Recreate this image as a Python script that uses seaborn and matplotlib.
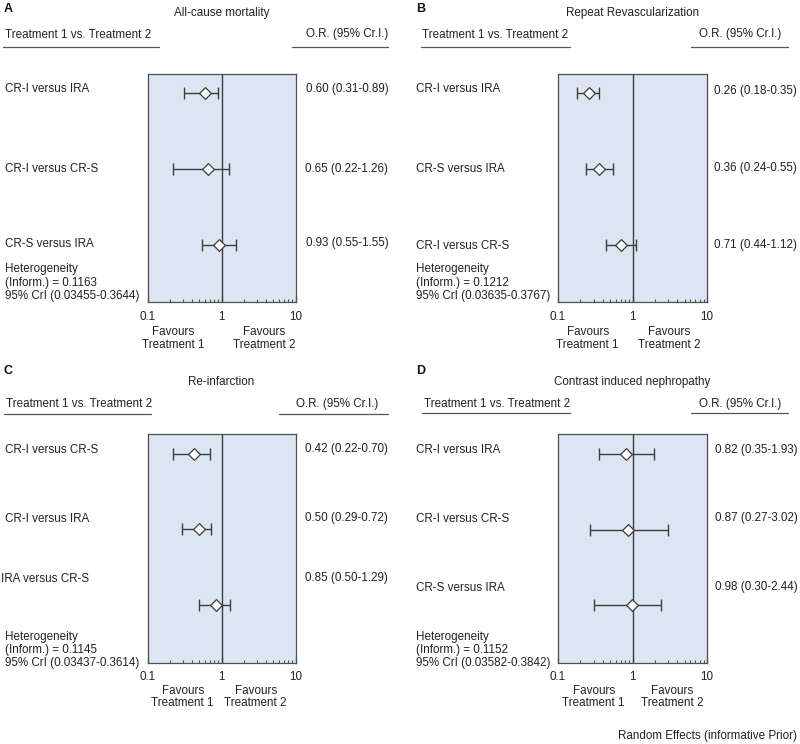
import numpy as np
import seaborn as sns
import matplotlib
matplotlib.use("Agg")
from matplotlib import pyplot as plt
from matplotlib.ticker import LogLocator, NullFormatter, FixedLocator, FixedFormatter

# ---------------- data ----------------
letters = ["A", "B", "C", "D"]
titles = ["All-cause mortality", "Repeat Revascularization", "Re-infarction",
          "Contrast induced nephropathy"]

comp_A = ["CR-I versus IRA", "CR-I versus CR-S", "CR-S versus IRA"]
or_A = [0.60, 0.65, 0.93]
lo_A = [0.31, 0.22, 0.55]
hi_A = [0.89, 1.26, 1.55]

comp_B = ["CR-I versus IRA", "CR-S versus IRA", "CR-I versus CR-S"]
or_B = [0.26, 0.36, 0.71]
lo_B = [0.18, 0.24, 0.44]
hi_B = [0.35, 0.55, 1.12]

comp_C = ["CR-I versus CR-S", "CR-I versus IRA", "IRA versus CR-S"]
or_C = [0.42, 0.50, 0.85]
lo_C = [0.22, 0.29, 0.50]
hi_C = [0.70, 0.72, 1.29]

comp_D = ["CR-I versus IRA", "CR-I versus CR-S", "CR-S versus IRA"]
or_D = [0.82, 0.87, 0.98]
lo_D = [0.35, 0.27, 0.30]
hi_D = [1.93, 3.02, 2.44]

het_tau = ["0.1163", "0.1212", "0.1145", "0.1152"]
het_lo = ["0.03455", "0.03635", "0.03437", "0.03582"]
het_hi = ["0.3644", "0.3767", "0.3614", "0.3842"]

tick_vals = [0.1, 1, 10]
tick_labels = ["0.1", "1", "10"]

# ---------------- layout (pixels) ----------------
W, H = 800, 744
# axes box: left, right, top, bottom
boxes = [(147.5, 295.5, 73.7, 302.3), (558, 707, 73.7, 302.3),
         (147.5, 295.5, 434, 662.7), (558, 707, 434, 663)]
label_x = [5, 416, 5, 416]
label_x_c3 = 1  # "IRA versus CR-S" sits further left
row_y = [[89.3, 169.3, 244.3], [89.3, 169.3, 246], [450, 519.3, 579.3], [450, 519.3, 588.3]]
or_y = [[89.3, 169.3, 243.3], [91, 168.3, 245], [449.3, 518.3, 578.3], [450, 518.3, 586.7]]
or_right = [388.3, 796.7, 388, 797.7]
het_y = [[269.3, 283.3, 296], [269.3, 283.3, 296], [637.3, 650, 663.3], [637.3, 650, 663.3]]
letter_y = [8.7, 8.7, 371, 371]
title_y = [13.3, 13.3, 381.7, 381.7]
head_y = [34.5, 34.5, 403.7, 403.7]
line_y = [46.5, 46.5, 414.3, 413.3]
left_line = [(3, 159), (420.5, 570), (4, 150.7), (421.5, 570)]
or_line = [(292, 388), (690.7, 787.7), (279, 388), (690.7, 787.7)]
or_head_x = [388, 781, 378, 781]
fav_y = [(332.3, 345), (332.3, 345), (690.7, 703.3), (690.7, 703.3)]
fav1_x = [173, 587.7, 182.7, 593.7]
fav2_x = [264, 669.3, 255.7, 672.3]

fill = "#dce6f2"
edge = "#505050"
dark = "#3c3c3c"
txt = "#222222"
fs = 8.4

sns.set_style("ticks")
plt.rcParams["font.family"] = ["Liberation Sans", "DejaVu Sans"]

fig = plt.figure(figsize=(W / 100, H / 100), dpi=100)


def fx(px):
    return px / W


def fy(py):
    return 1 - py / H


panels = [(comp_A, or_A, lo_A, hi_A), (comp_B, or_B, lo_B, hi_B),
          (comp_C, or_C, lo_C, hi_C), (comp_D, or_D, lo_D, hi_D)]

for i, (comps, ors, los, his) in enumerate(panels):
    l, r, t, b = boxes[i]
    ax = fig.add_axes([fx(l), fy(b), (r - l) / W, (b - t) / H])
    ax.set_facecolor(fill)
    ax.set_xscale("log")
    ax.set_xlim(0.1, 10)
    ax.set_ylim(2.76, -0.26)
    rows = np.arange(len(comps))

    ax.axvline(1, color=dark, lw=1.0, zorder=1)
    ax.errorbar(ors, rows,
                xerr=[np.array(ors) - np.array(los), np.array(his) - np.array(ors)],
                fmt="none", ecolor=dark, elinewidth=1.0, capsize=4.5, capthick=1.0, zorder=2)
    sns.scatterplot(x=ors, y=rows, ax=ax, marker="D", s=36, color="white",
                    edgecolor=dark, linewidth=0.9, zorder=3)

    for s in ax.spines.values():
        s.set_color(edge)
        s.set_linewidth(0.9)
    ax.set_yticks([])
    ax.xaxis.set_major_locator(FixedLocator(tick_vals))
    ax.xaxis.set_major_formatter(FixedFormatter(tick_labels))
    ax.xaxis.set_minor_locator(LogLocator(base=10, subs=np.arange(2, 10)))
    ax.xaxis.set_minor_formatter(NullFormatter())
    ax.tick_params(axis="x", which="major", direction="in", length=4, width=0.9,
                   color=edge, labelsize=fs, pad=6, labelcolor=txt)
    ax.tick_params(axis="x", which="minor", direction="in", length=2.5, width=0.8, color=edge)
    ax.set_xlabel("")
    ax.set_ylabel("")

    # labels
    for j, c in enumerate(comps):
        xl = label_x_c3 if (i == 2 and j == 2) else label_x[i]
        fig.text(fx(xl), fy(row_y[i][j]), c, fontsize=fs, va="center", ha="left", color=txt)
        fig.text(fx(or_right[i]), fy(or_y[i][j]), f"{ors[j]:.2f} ({los[j]:.2f}-{his[j]:.2f})",
                 fontsize=fs, va="center", ha="right", color=txt)
    het = ["Heterogeneity", f"(Inform.) = {het_tau[i]}", f"95% CrI ({het_lo[i]}-{het_hi[i]})"]
    for k, h in enumerate(het):
        fig.text(fx(label_x[i]), fy(het_y[i][k]), h, fontsize=fs, va="center", ha="left", color=txt)

    fig.text(fx(label_x[i] if i % 2 else 4), fy(letter_y[i]), letters[i], fontsize=9,
             fontweight="bold", va="center", ha="left", color="#111")
    fig.text(fx((l + r) / 2), fy(title_y[i]), titles[i], fontsize=fs, va="center", ha="center", color=txt)
    fig.text(fx(left_line[i][0] + 2), fy(head_y[i]), "Treatment 1 vs. Treatment 2", fontsize=fs,
             va="center", ha="left", color=txt)
    fig.text(fx(or_head_x[i]), fy(head_y[i]), "O.R. (95% Cr.I.)", fontsize=fs,
             va="center", ha="right", color=txt)
    fig.add_artist(plt.Line2D([fx(left_line[i][0]), fx(left_line[i][1])], [fy(line_y[i])] * 2,
                              color="#555", lw=0.9))
    fig.add_artist(plt.Line2D([fx(or_line[i][0]), fx(or_line[i][1])], [fy(line_y[i])] * 2,
                              color="#555", lw=0.9))
    fig.text(fx(fav1_x[i]), fy(fav_y[i][0]), "Favours", fontsize=fs, va="center", ha="center", color=txt)
    fig.text(fx(fav1_x[i]), fy(fav_y[i][1]), "Treatment 1", fontsize=fs, va="center", ha="center", color=txt)
    fig.text(fx(fav2_x[i]), fy(fav_y[i][0]), "Favours", fontsize=fs, va="center", ha="center", color=txt)
    fig.text(fx(fav2_x[i]), fy(fav_y[i][1]), "Treatment 2", fontsize=fs, va="center", ha="center", color=txt)

fig.text(fx(796.7), fy(735.7), "Random Effects (informative Prior)", fontsize=fs,
         va="center", ha="right", color=txt)

fig.savefig("out.png", dpi=100)
